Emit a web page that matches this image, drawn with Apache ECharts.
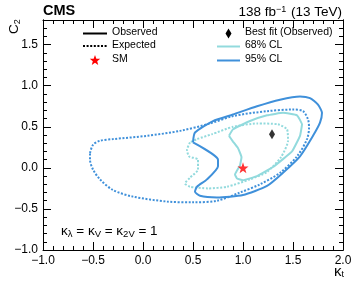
<!DOCTYPE html>
<html><head><meta charset="utf-8">
<script src="https://cdn.jsdelivr.net/npm/echarts@6/dist/echarts.min.js"></script>
<style>html,body{margin:0;padding:0;background:#fff}#c{width:357px;height:286px}</style>
</head><body><div id="c"></div>
<script>
// Contours: [kappa_t, C2]
const obs95 = [[0.50,0.31],[0.52,0.43],[0.70,0.57],[0.90,0.65],[1.14,0.75],[1.37,0.83],[1.57,0.87],[1.67,0.85],[1.75,0.77],[1.79,0.67],[1.77,0.55],[1.70,0.39],[1.57,0.14],[1.40,-0.06],[1.24,-0.22],[1.00,-0.33],[0.74,-0.36],[0.57,-0.34],[0.52,-0.29],[0.54,-0.23],[0.64,-0.14],[0.75,0.02],[0.75,0.10],[0.50,0.31]];
const exp95 = [[-0.53,0.18],[-0.50,0.28],[-0.43,0.33],[-0.30,0.35],[0.04,0.39],[0.37,0.45],[0.67,0.54],[0.90,0.63],[1.24,0.69],[1.50,0.71],[1.60,0.69],[1.65,0.59],[1.66,0.49],[1.64,0.35],[1.54,0.14],[1.37,-0.06],[1.17,-0.20],[0.97,-0.30],[0.74,-0.40],[0.50,-0.42],[0.24,-0.41],[-0.10,-0.35],[-0.30,-0.27],[-0.43,-0.14],[-0.50,-0.02],[-0.53,0.10],[-0.53,0.18]];
const obs68 = [[0.86,0.39],[0.90,0.47],[1.07,0.57],[1.24,0.64],[1.40,0.67],[1.54,0.64],[1.59,0.53],[1.57,0.39],[1.49,0.20],[1.30,0.01],[1.14,-0.10],[1.00,-0.15],[0.94,-0.13],[0.92,-0.08],[0.97,0.03],[0.985,0.13],[0.95,0.24],[0.90,0.32],[0.86,0.39]];
const exp68 = [[0.47,0.31],[0.44,0.22],[0.46,0.14],[0.55,0.10],[0.55,-0.02],[0.47,-0.12],[0.42,-0.19],[0.47,-0.23],[0.65,-0.25],[0.84,-0.23],[1.07,-0.14],[1.24,-0.05],[1.38,0.13],[1.45,0.33],[1.44,0.47],[1.35,0.53],[1.14,0.54],[0.90,0.50],[0.69,0.41],[0.54,0.35],[0.47,0.31]];
const bestFit = [[1.29, 0.41]];
const smPoint = [[1.0, 0.0]];
const xRange = [-1.0, 2.0];
const yRange = [-1.0, 1.8];

const C68 = '#92dadd', C95 = '#3f90da';
const FONT = 'Liberation Sans, Arial, Helvetica, sans-serif';
const fmt = v => (Math.abs(v % 0.5) > 1e-6 && Math.abs(Math.abs(v % 0.5) - 0.5) > 1e-6) ? '' : v.toFixed(1).replace('-', '\u2212');
const starPath = 'path://M0,-10 L2.35,-3.24 9.51,-3.09 3.8,1.24 5.88,8.09 0,4 -5.88,8.09 -3.8,1.24 -9.51,-3.09 -2.35,-3.24Z';

function xAx(pos, labels) {
  return { type:'value', position:pos, min:xRange[0], max:xRange[1], interval:0.5,
    axisLine:{show:true, onZero:false, lineStyle:{color:'#000', width:1}},
    axisTick:{show:true, inside:true, length:8, lineStyle:{color:'#000'}},
    minorTick:{show:true, splitNumber:5, length:4, lineStyle:{color:'#000'}},
    splitLine:{show:false}, minorSplitLine:{show:false},
    axisLabel:{show:labels, formatter:fmt, color:'#000', fontSize:12, fontFamily:FONT, margin:5,
      showMinLabel:true, showMaxLabel:true} };
}
function yAx(pos, interval, len, labels) {
  return { type:'value', position:pos, min:yRange[0], max:yRange[1], interval:interval,
    axisLine:{show:true, onZero:false, lineStyle:{color:'#000', width:1}},
    axisTick:{show:true, inside:true, length:len, lineStyle:{color:'#000'}},
    splitLine:{show:false},
    axisLabel:{show:labels, formatter:fmt, color:'#000', fontSize:12, fontFamily:FONT, margin:5, showMaxLabel:false} };
}

function starPts(cx, cy, ro, ri) {
  const p = [];
  for (let i = 0; i < 10; i++) {
    const a = -Math.PI/2 + i*Math.PI/5, r = i%2 ? ri : ro;
    p.push([cx + r*Math.cos(a), cy + r*Math.sin(a)]);
  }
  return p;
}

function contour(data, color, dotted, smooth) {
  return { type:'line', data:data, xAxisIndex:0, yAxisIndex:0, showSymbol:false, symbol:'none',
    smooth:smooth, silent:true, animation:false,
    lineStyle:{color:color, width:2, type: dotted ? [2,1.6] : 'solid'} };
}

const chart = echarts.init(document.getElementById('c'), null, {renderer:'canvas'});
chart.setOption({
  animation:false,
  grid:{left:43, right:14, top:20, bottom:36},
  xAxis:[xAx('bottom', true), xAx('top', false)],
  yAxis:[yAx('left', 0.5, 8, true), yAx('left', 0.1, 4, false), yAx('right', 0.5, 8, false), yAx('right', 0.1, 4, false)],
  series:[
    contour(exp95, C95, true, 0.3),
    contour(exp68, C68, true, 0.2),
    contour(obs95, C95, false, 0.2),
    contour(obs68, C68, false, 0.1),
    { type:'scatter', data:bestFit, symbol:'diamond', symbolSize:[6,10], itemStyle:{color:'#000'}, silent:true, z:5 },
    { type:'scatter', data:smPoint, symbol:starPath, symbolSize:11, itemStyle:{color:'#ff0000'}, silent:true, z:5 }
  ],
  graphic:[
    {type:'text', left:43, top:3, style:{text:'CMS', font:'bold 14.5px '+FONT, fill:'#000'}},
    {type:'text', right:15, top:5, style:{rich:{a:{fontSize:13.5, fontFamily:FONT}, s:{fontSize:9, fontFamily:FONT, padding:[0,1,6,0]}},
      text:'{a|138 fb}{s|\u22121}{a| (13 TeV)}', fill:'#000'}},
    {type:'text', x:7, y:34, rotation:Math.PI/2, style:{rich:{a:{fontSize:13.5, fontFamily:FONT}, s:{fontSize:9, fontFamily:FONT, padding:[6,0,0,0]}}, text:'{a|C}{s|2}', fill:'#000'}},
    {type:'text', right:13, top:264, style:{rich:{a:{fontSize:15, fontFamily:FONT}, s:{fontSize:9, fontFamily:FONT, padding:[7,0,0,0]}}, text:'{a|\u03ba}{s|t}', fill:'#000'}},
    {type:'text', left:61, top:224, style:{rich:{a:{fontSize:13.5, fontFamily:FONT}, s:{fontSize:9.5, fontFamily:FONT, padding:[6,0,0,0]}},
      text:'{a|\u03ba}{s|\u03bb}{a| = \u03ba}{s|V}{a| = \u03ba}{s|2V}{a| = 1}', fill:'#000'}},
    // legend left column
    {type:'line', shape:{x1:83, y1:33.5, x2:107, y2:33.5}, style:{stroke:'#000', lineWidth:2}},
    {type:'text', left:112, top:27, style:{text:'Observed', font:'10.5px '+FONT, fill:'#000'}},
    {type:'line', shape:{x1:83, y1:46, x2:107, y2:46}, style:{stroke:'#000', lineWidth:2, lineDash:[2,1.6]}},
    {type:'text', left:112, top:40, style:{text:'Expected', font:'10.5px '+FONT, fill:'#000'}},
    {type:'polygon', shape:{points:starPts(95, 60.5, 5.5, 2.3)}, style:{fill:'#ff0000'}},
    {type:'text', left:112, top:54, style:{text:'SM', font:'10.5px '+FONT, fill:'#000'}},
    // legend right column
    {type:'polygon', shape:{points:[[228.5,28.5],[231.5,33.5],[228.5,38.5],[225.5,33.5]]}, style:{fill:'#000'}},
    {type:'text', left:245, top:27, style:{text:'Best fit (Observed)', font:'10.5px '+FONT, fill:'#000'}},
    {type:'line', shape:{x1:217, y1:46.5, x2:240, y2:46.5}, style:{stroke:C68, lineWidth:2}},
    {type:'text', left:245, top:40, style:{text:'68% CL', font:'10.5px '+FONT, fill:'#000'}},
    {type:'line', shape:{x1:217, y1:60.5, x2:240, y2:60.5}, style:{stroke:C95, lineWidth:2}},
    {type:'text', left:245, top:54, style:{text:'95% CL', font:'10.5px '+FONT, fill:'#000'}}
  ]
});
</script></body></html>
